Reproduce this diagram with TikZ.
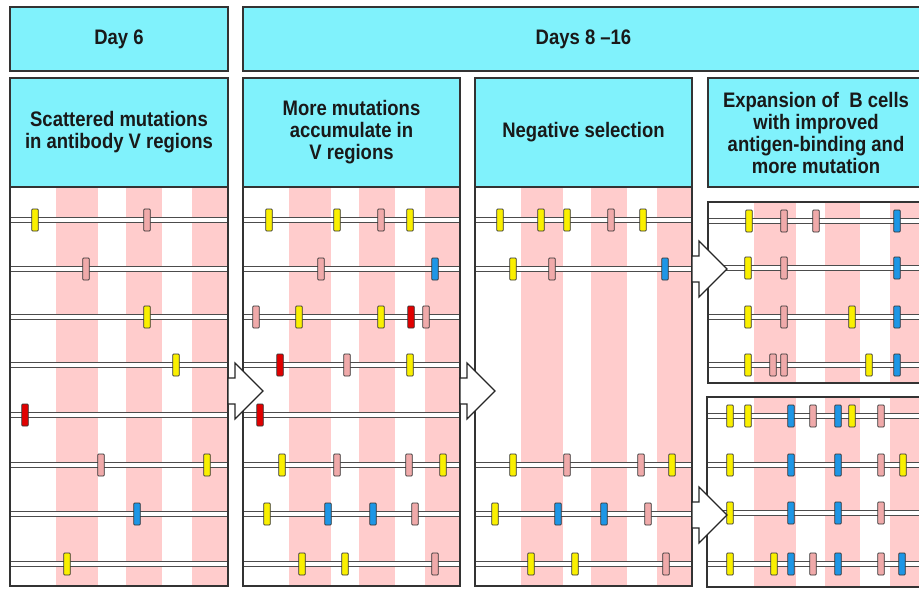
\documentclass[tikz,border=0pt]{standalone}
\usepackage{fontspec}
\newfontfamily\labelfont{Liberation Sans}[FakeStretch=0.88]
\usetikzlibrary{positioning}

\definecolor{boxcyan}{RGB}{128,242,252}
\definecolor{stripe}{RGB}{255,204,204}
\definecolor{mutY}{RGB}{250,240,0}
\definecolor{mutP}{RGB}{240,170,170}
\definecolor{mutB}{RGB}{30,150,230}
\definecolor{mutR}{RGB}{225,0,0}

\begin{document}
\begin{tikzpicture}[
  x=1pt, y=-1pt,
  hdr/.style={draw=black!80, line width=1.3pt, fill=boxcyan, inner sep=0pt, align=center,
              font=\labelfont\bfseries\fontsize{21}{22}\selectfont, text=black!90},
  panel/.style={draw=black!80, line width=1.3pt},
  band/.style={fill=stripe},
  chrom/.style={draw=black!70, line width=1.2pt, double=white, double distance=3.6pt},
  mut/.style={draw=black!80, line width=0.7pt, rounded corners=0.8pt, minimum width=6.5pt,
              minimum height=22pt, inner sep=0pt},
  barrow/.style={draw=black!85, line width=1.2pt, fill=white, line join=miter},
]
\useasboundingbox (0,0) rectangle (919,590);
\clip (0,0) rectangle (919,590);
\fill[white] (0,0) rectangle (919,590);

% Stripes
\foreach \l/\r in {10/228, 243/460, 475/692} {
  \fill[band] (\l+46,187) rectangle (\l+88,586);
  \fill[band] (\l+116,187) rectangle (\l+152,586);
  \fill[band] (\l+182,187) rectangle (\r,586);
}
\foreach \t/\b in {202/383, 397/587} {
  \fill[band] (754,\t) rectangle (796,\b);
  \fill[band] (825,\t) rectangle (860,\b);
  \fill[band] (890,\t) rectangle (924,\b);
}

% V regions
\foreach \y in {220,269,317,365,415,465,514,564} {
  \draw[chrom] (10,\y) -- (228,\y);
  \draw[chrom] (243,\y) -- (460,\y);
}
\foreach \y in {220,269,465,514,564}
  \draw[chrom] (475,\y) -- (692,\y);
\foreach \y in {221,268,317,365,416,465,513,564}
  \draw[chrom] (708,\y) -- (924,\y);

% Mutations
\foreach \x/\y/\c in {35/220/mutY, 147/220/mutP, 86/269/mutP, 147/317/mutY, 176/365/mutY,
    25/415/mutR, 101/465/mutP, 207/465/mutY, 137/514/mutB, 67/564/mutY}
  \node[mut, fill=\c] (a\x-\y) at (\x,\y) {};
\foreach \x/\y/\c in {269/220/mutY, 337/220/mutY, 381/220/mutP, 410/220/mutY,
    321/269/mutP, 435/269/mutB,
    256/317/mutP, 299/317/mutY, 381/317/mutY, 411/317/mutR, 426/317/mutP,
    280/365/mutR, 347/365/mutP, 410/365/mutY,
    260/415/mutR,
    282/465/mutY, 337/465/mutP, 409/465/mutP, 443/465/mutY,
    267/514/mutY, 328/514/mutB, 373/514/mutB, 415/514/mutP,
    302/564/mutY, 345/564/mutY, 435/564/mutP}
  \node[mut, fill=\c] (b\x-\y) at (\x,\y) {};
\foreach \x/\y/\c in {500/220/mutY, 541/220/mutY, 567/220/mutY, 611/220/mutP, 643/220/mutY,
    513/269/mutY, 552/269/mutP, 665/269/mutB,
    513/465/mutY, 567/465/mutP, 641/465/mutP, 672/465/mutY,
    495/514/mutY, 558/514/mutB, 604/514/mutB, 648/514/mutP,
    531/564/mutY, 575/564/mutY, 666/564/mutP}
  \node[mut, fill=\c] (c\x-\y) at (\x,\y) {};
\foreach \x/\y/\c in {749/221/mutY, 784/221/mutP, 816/221/mutP, 897/221/mutB,
    748/268/mutY, 784/268/mutP, 897/268/mutB,
    748/317/mutY, 784/317/mutP, 852/317/mutY, 897/317/mutB,
    748/365/mutY, 773/365/mutP, 784/365/mutP, 869/365/mutY, 897/365/mutB,
    730/416/mutY, 748/416/mutY, 791/416/mutB, 813/416/mutP, 838/416/mutB, 852/416/mutY, 881/416/mutP,
    730/465/mutY, 791/465/mutB, 838/465/mutB, 881/465/mutP, 903/465/mutY,
    730/513/mutY, 791/513/mutB, 838/513/mutB, 881/513/mutP,
    730/564/mutY, 774/564/mutY, 791/564/mutB, 813/564/mutP, 838/564/mutB, 881/564/mutP, 902/564/mutB}
  \node[mut, fill=\c] (d\x-\y) at (\x,\y) {};

% Panels
\draw[panel] (10,78) rectangle (228,586);
\draw[panel] (243,78) rectangle (460,586);
\draw[panel] (475,78) rectangle (692,586);
\draw[panel] (708,202) rectangle (924,383);
\draw[panel] (707,397) rectangle (924,587);

% Headers
\node[hdr, minimum width=218pt, minimum height=64pt] (day6) at (119,39) {Day 6};
\node[hdr, minimum width=681pt, minimum height=64pt] (days) at (583.5,39) {Days 8 –16};
\node[hdr, minimum width=218pt, minimum height=109pt] (t1) at (119,132.5)
  {Scattered mutations\\in antibody V regions};
\node[hdr, minimum width=217pt, minimum height=109pt] (t2) at (351.5,132.5)
  {More mutations\\accumulate in\\V regions};
\node[hdr, minimum width=217pt, minimum height=109pt] (t3) at (583.5,132.5)
  {Negative selection};
\node[hdr, minimum width=216pt, minimum height=109pt] (t4) at (816,132.5)
  {Expansion of~ B cells\\with improved\\antigen-binding and\\more mutation};

% Block arrows
\foreach \t/\y in {228/391, 460/391, 692/269, 692/515}
  \draw[barrow] (\t,\y-13) -- ++(7,0) -- ++(0,-15) -- ++(28,28) -- ++(-28,28)
    -- ++(0,-15) -- ++(-7,0) -- cycle;

\end{tikzpicture}
\end{document}
